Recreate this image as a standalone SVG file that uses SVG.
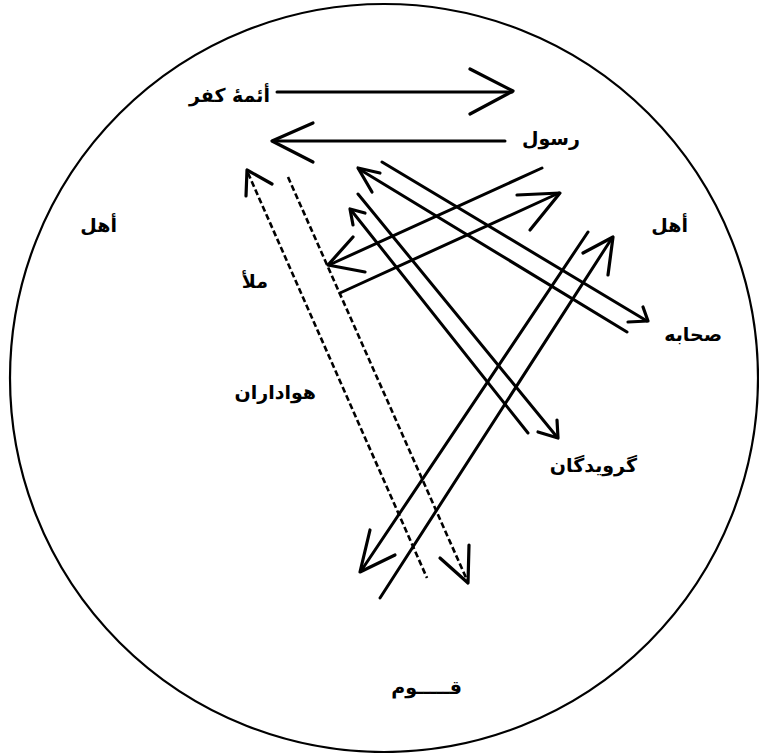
<svg xmlns="http://www.w3.org/2000/svg" width="759" height="753" viewBox="0 0 759 753">
<style>
.bg{fill:#ffffff}
.frame{fill:none;stroke:#000;stroke-width:2.2}
.ln{fill:none;stroke:#000;stroke-width:3;stroke-linecap:round;stroke-linejoin:round}
.ds{fill:none;stroke:#000;stroke-width:2.6;stroke-dasharray:6 3}
.hd{fill:none;stroke:#000;stroke-width:3.2;stroke-linecap:round;stroke-linejoin:round}
.lb{font-family:"DejaVu Sans","Noto Sans",sans-serif;font-weight:bold;font-size:19px;fill:#000;text-anchor:end}
</style>
<rect class="bg" x="0" y="0" width="759" height="753"/>
<g id="qawm">
<circle class="frame" cx="384" cy="378" r="374"/>
<text class="lb" x="462" y="694">قـــــوم</text>
</g>
<g id="aimma"><text class="lb" x="270" y="102">أئمهٔ کفر</text></g>
<g id="rasul"><text class="lb" x="580" y="145">رسول</text></g>
<g id="ahl-left"><text class="lb" x="117" y="232">أهل</text></g>
<g id="ahl-right"><text class="lb" x="688" y="232">أهل</text></g>
<g id="mala"><text class="lb" x="268" y="288">ملأ</text></g>
<g id="sahaba"><text class="lb" x="722" y="341">صحابه</text></g>
<g id="hawadaran"><text class="lb" x="316" y="399">هواداران</text></g>
<g id="garavidegan"><text class="lb" x="637" y="472">گرویدگان</text></g>
<g id="connectors">
<line class="ln" x1="277" y1="92" x2="512" y2="92"/>
<polyline class="hd" points="470,69 513,91 470,114"/>
<line class="ln" x1="505" y1="141" x2="273" y2="141"/>
<polyline class="hd" points="313,123 272,141 313,162"/>
<line class="ds" x1="248" y1="173" x2="427" y2="578"/>
<polyline class="hd" points="272,184 247,170 246,196"/>
<line class="ds" x1="288" y1="177" x2="467" y2="580"/>
<polyline class="hd" points="440,558 468,583 469,545"/>
<line class="ln" x1="542" y1="168" x2="329" y2="265"/>
<polyline class="hd" points="353,237 328,265 365,272"/>
<line class="ln" x1="340" y1="293" x2="559" y2="193"/>
<polyline class="hd" points="517,195 560,193 530,230"/>
<line class="ln" x1="351" y1="210" x2="528" y2="433"/>
<polyline class="hd" points="365,213 350,209 353,225"/>
<line class="ln" x1="358" y1="194" x2="557" y2="437"/>
<polyline class="hd" points="538,432 558,438 557,420"/>
<line class="ln" x1="382" y1="162" x2="647" y2="321"/>
<polyline class="hd" points="628,322 648,321 643,307"/>
<line class="ln" x1="359" y1="169" x2="627" y2="332"/>
<polyline class="hd" points="380,173 358,168 372,192"/>
<line class="ln" x1="380" y1="598" x2="612" y2="238"/>
<polyline class="hd" points="583,253 613,237 608,275"/>
<line class="ln" x1="588" y1="232" x2="361" y2="571"/>
<polyline class="hd" points="370,530 360,572 395,555"/>
</g>
</svg>
